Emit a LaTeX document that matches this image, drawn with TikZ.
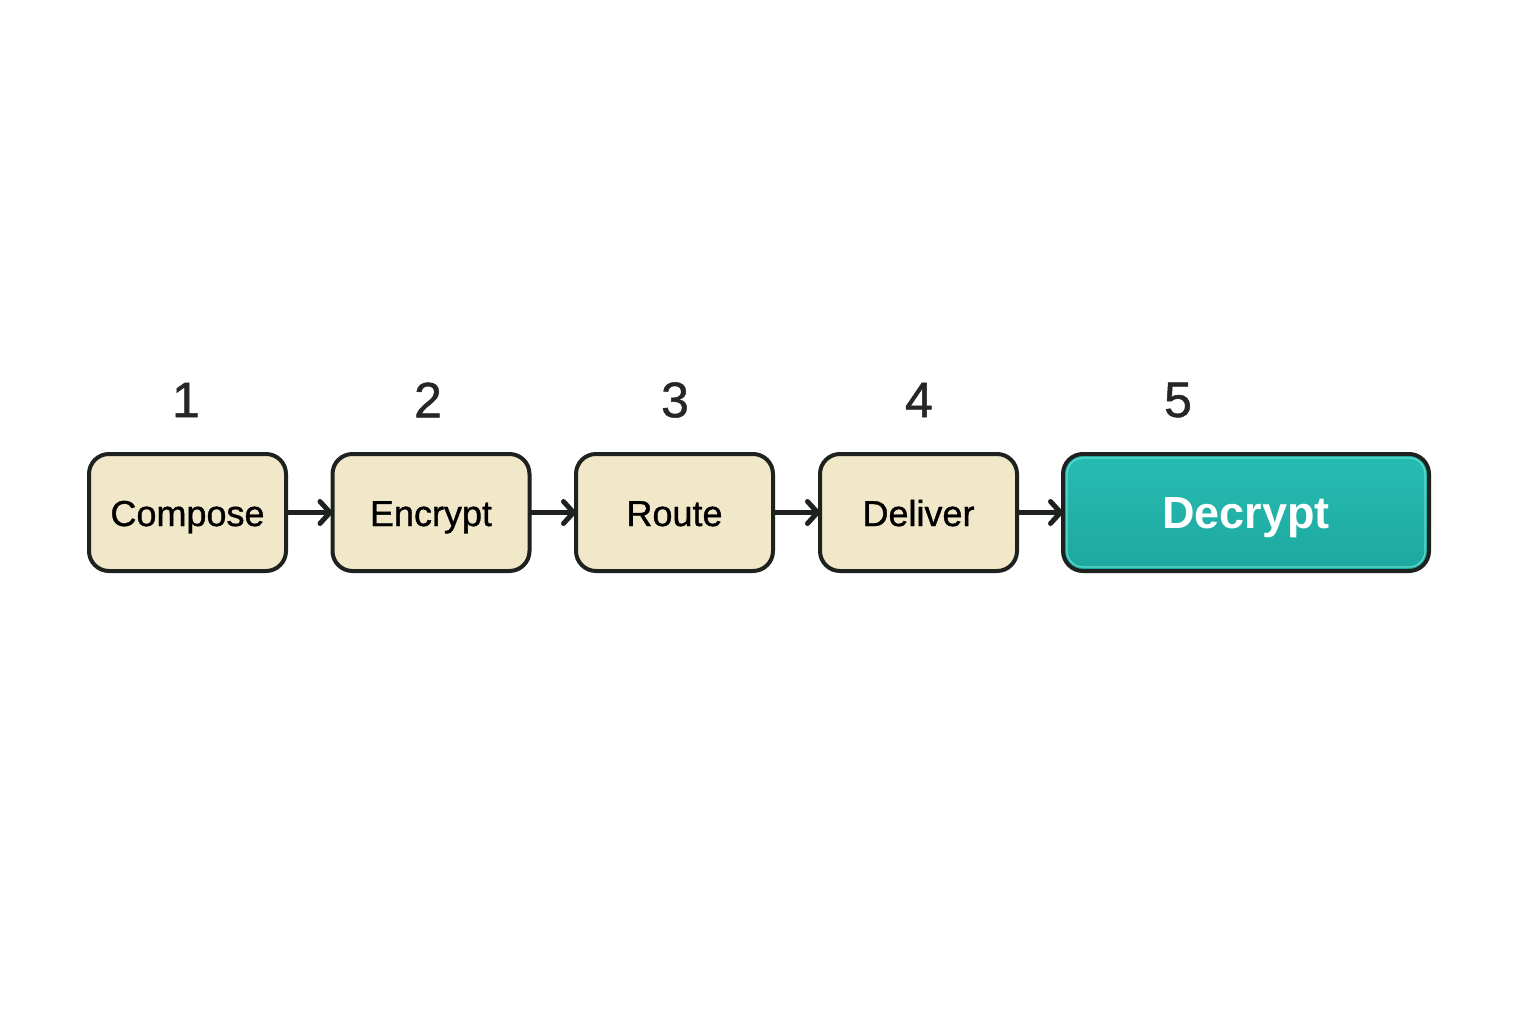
\documentclass[tikz,border=0pt]{standalone}
\usepackage{fontspec}
\setmainfont{Liberation Sans}
\newfontfamily\medfont[FakeBold=1]{Liberation Sans}
\usetikzlibrary{arrows.meta}
\definecolor{beige}{HTML}{F1E8C9}
\definecolor{edge}{HTML}{1E221F}
\definecolor{tealtop}{HTML}{27BCB2}
\definecolor{tealbot}{HTML}{1DA89E}
\definecolor{tealrim}{HTML}{5FDCD0}
\definecolor{numc}{HTML}{262626}
\tikzset{
  x=1pt, y=-1pt,
  stepbox/.style={draw=edge, line width=4pt, rounded corners=20pt, fill=beige,
    minimum width=197pt, minimum height=117pt, inner sep=0pt, outer sep=0pt,
    text height=30pt, text depth=3pt,
    font=\medfont\fontsize{36}{42}\selectfont, text=black},
  finalbox/.style={stepbox, top color=tealtop, bottom color=tealbot,
    minimum width=366pt, text height=34pt, text depth=3pt,
    font=\bfseries\fontsize{45}{52}\selectfont, text=white},
  num/.style={font=\medfont\fontsize{50}{56}\selectfont, text=numc, inner sep=0pt},
  flow/.style={draw=edge, line width=5pt, -{Straight Barb[length=10pt,width=22pt,line width=5pt,round]}},
}
\begin{document}
\begin{tikzpicture}
\useasboundingbox (0,0) rectangle (1536,1024);
\fill[white] (0,0) rectangle (1536,1024);
\node[stepbox] (b1) at (187.5,512.5) {Compose};
\node[stepbox] (b2) at (431,512.5) {Encrypt};
\node[stepbox] (b3) at (674.5,512.5) {Route};
\node[stepbox] (b4) at (918.5,512.5) {Deliver};
\node[finalbox] (b5) at (1246,512.5) {Decrypt};
\draw[tealrim, line width=1.2pt, rounded corners=16pt]
  ([shift={(4pt,-4pt)}]b5.north west) rectangle ([shift={(-4pt,4pt)}]b5.south east);
\node[num] (n1) at (186,400) {1};
\node[num] (n2) at (428,400) {2};
\node[num] (n3) at (675,400) {3};
\node[num] (n4) at (919,400) {4};
\node[num] (n5) at (1178,400) {5};
\draw[flow] (b1.east) -- (b2.west);
\draw[flow] (b2.east) -- (b3.west);
\draw[flow] (b3.east) -- (b4.west);
\draw[flow] (b4.east) -- (b5.west);
\end{tikzpicture}
\end{document}
